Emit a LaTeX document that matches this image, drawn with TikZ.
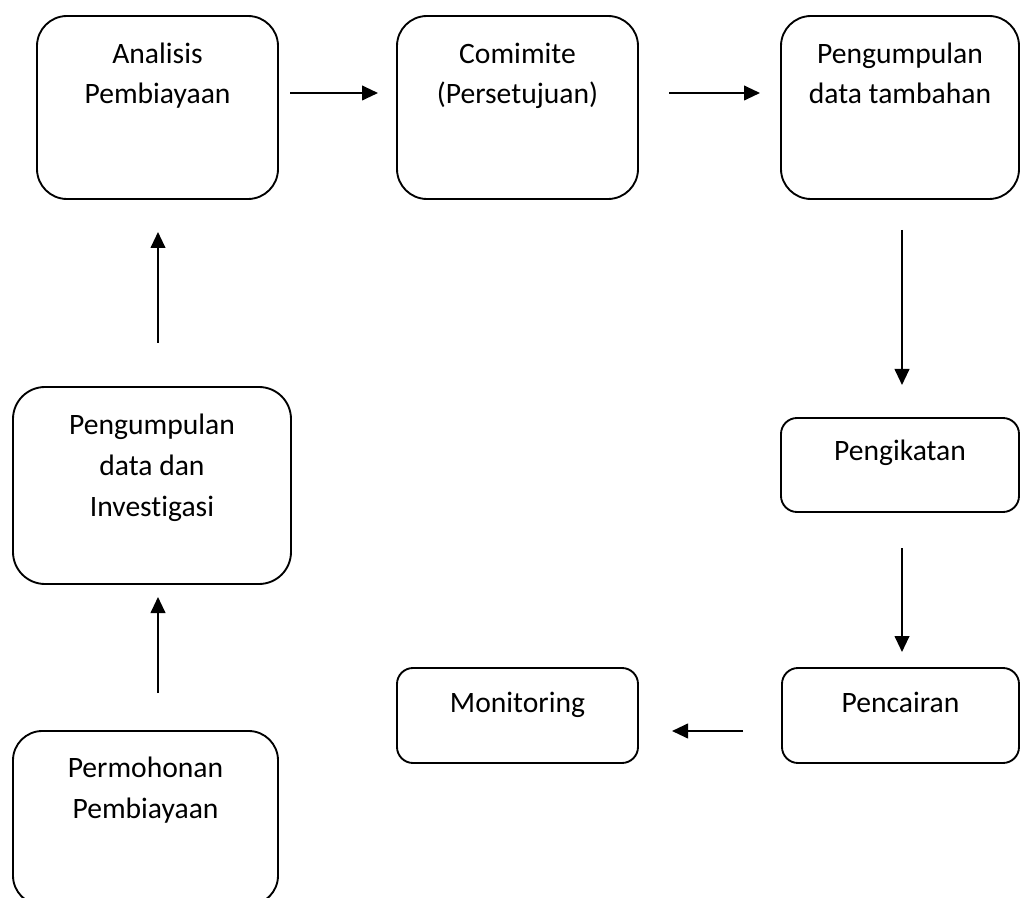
\documentclass[tikz,border=0pt]{standalone}
\usepackage{fontspec}
\setmainfont{Carlito}[Ligatures={NoCommon}]
\usetikzlibrary{arrows.meta}
\begin{document}
\begin{tikzpicture}[x=0.75pt,y=-0.75pt,
  box/.style={draw=black, line width=1.4pt, rectangle, inner sep=0pt, fill=none},
  txt/.style={inner sep=0pt, anchor=base, align=center, font=\fontsize{22.2pt}{30.5pt}\selectfont},
  conn/.style={line width=1.5pt, -{Triangle[length=12pt,width=11pt]}}]
\clip (0,0) rectangle (1021,898);
\fill[white] (0,0) rectangle (1021,898);
% boxes
\node[box, minimum width=180.75pt, minimum height=137.25pt, rounded corners=22.5pt] (b1) at (157.5,107.5) {};
\node[box, minimum width=180.75pt, minimum height=137.25pt, rounded corners=22.5pt] (b2) at (517.5,107.5) {};
\node[box, minimum width=178.5pt, minimum height=137.25pt, rounded corners=22.5pt] (b3) at (900,107.5) {};
\node[box, minimum width=208.5pt, minimum height=147.75pt, rounded corners=24pt] (b4) at (152,485.5) {};
\node[box, minimum width=178.5pt, minimum height=70.5pt, rounded corners=12pt] (b5) at (900,465) {};
\node[box, minimum width=180.75pt, minimum height=71.25pt, rounded corners=12pt] (b6) at (517.5,715.5) {};
\node[box, minimum width=177.75pt, minimum height=71.25pt, rounded corners=12pt] (b7) at (900.5,715.5) {};
\node[box, minimum width=198.75pt, minimum height=130.5pt, rounded corners=22pt] (b8) at (145.5,818) {};
% texts (anchor = baseline of last line)
\node[txt] (t1) at (157.5,104) {Analisis\\Pembiayaan};
\node[txt] (t2) at (517.5,104) {Comimite\\(Persetujuan)};
\node[txt] (t3) at (900,104) {Pengumpulan\\data tambahan};
\node[txt] (t4) at (152,516) {Pengumpulan\\data dan\\Investigasi};
\node[txt] (t5) at (900,460) {Pengikatan};
\node[txt] (t6) at (517.5,712) {Monitoring};
\node[txt] (t7) at (900.5,712) {Pencairan};
\node[txt] (t8) at (145.5,818) {Permohonan\\Pembiayaan};
% connector ends
\coordinate (a1s) at (290,93);  \coordinate (a1e) at (378,93);
\coordinate (a2s) at (669,93);  \coordinate (a2e) at (760,93);
\coordinate (a3s) at (902,230); \coordinate (a3e) at (902,385);
\coordinate (a4s) at (158,343); \coordinate (a4e) at (158,232);
\coordinate (a5s) at (158,693); \coordinate (a5e) at (158,597);
\coordinate (a6s) at (902,548); \coordinate (a6e) at (902,652);
\coordinate (a7s) at (743,731); \coordinate (a7e) at (672,731);
\draw[conn] (a1s) -- (a1e);
\draw[conn] (a2s) -- (a2e);
\draw[conn] (a3s) -- (a3e);
\draw[conn] (a4s) -- (a4e);
\draw[conn] (a5s) -- (a5e);
\draw[conn] (a6s) -- (a6e);
\draw[conn] (a7s) -- (a7e);
\end{tikzpicture}
\end{document}
